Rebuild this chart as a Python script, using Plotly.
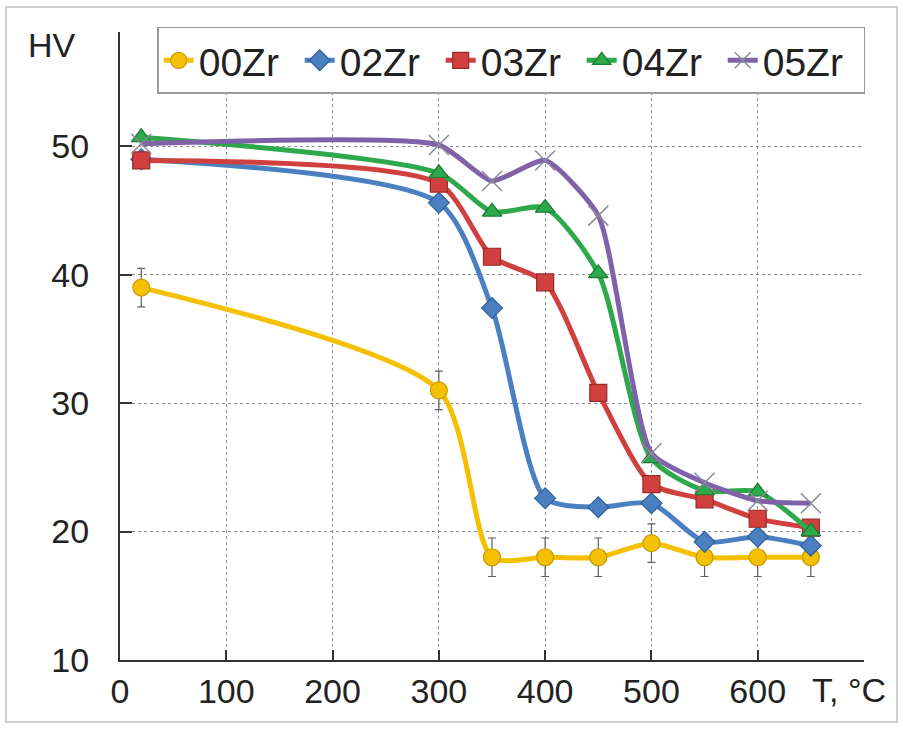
import plotly.graph_objects as go

T = [20, 300, 350, 400, 450, 500, 550, 600, 650]
hv_00 = [39.0, 31.0, 18.0, 18.0, 18.0, 19.1, 18.0, 18.0, 18.0]
err_00 = [1.5, 1.5, 1.5, 1.5, 1.5, 1.5, 1.5, 1.5, 1.5]
hv_02 = [49.0, 45.6, 37.4, 22.6, 21.9, 22.2, 19.2, 19.6, 18.9]
hv_03 = [48.9, 47.1, 41.4, 39.4, 30.8, 23.7, 22.5, 21.0, 20.3]
hv_04 = [50.7, 47.9, 44.9, 45.2, 40.1, 25.7, 23.2, 23.1, 20.0]
hv_05 = [50.2, 50.1, 47.3, 48.9, 44.6, 26.1, 23.8, 22.4, 22.2]

names = ["00Zr", "02Zr", "03Zr", "04Zr", "05Zr"]
x_ticks = [0, 100, 200, 300, 400, 500, 600]
y_ticks = [10, 20, 30, 40, 50]

FONT = "Liberation Sans, Arial, sans-serif"

fig = go.Figure()

styles = [
    (hv_00, "#F5C000", "#C89A00", "circle", 17, 0.7),
    (hv_02, "#4A80C2", "#2F5F9A", "diamond", 16, 0.7),
    (hv_03, "#D0403F", "#9A2A2A", "square", 17, 0.7),
    (hv_04, "#2DA84A", "#1C7A33", "triangle-up", 17, 0.7),
    (hv_05, "#8062A8", "#8A8A9A", "x-thin", 20, 0.55),
]

for i, (vals, col, edge, sym, sz, sm) in enumerate(styles):
    kw = {}
    if i == 0:
        kw["error_y"] = dict(type="data", array=err_00, visible=True,
                             color="#606060", thickness=1.2, width=4)
    fig.add_trace(go.Scatter(
        x=T, y=vals, name=names[i], mode="lines+markers",
        line=dict(color=col, width=5, shape="spline", smoothing=sm),
        marker=dict(symbol=sym, size=sz, color=col,
                    line=dict(color=edge, width=1.2 if sym != "x-thin" else 1.5)),
        **kw))

fig.update_layout(
    width=903, height=729,
    margin=dict(l=120, r=39, t=32, b=69),
    paper_bgcolor="white", plot_bgcolor="white",
    font=dict(family=FONT, color="#222222", size=32),
    showlegend=True,
    legend=dict(orientation="h", x=0.05, y=1.008, xanchor="left", yanchor="top",
                bordercolor="#9a9a9a", borderwidth=1.5, bgcolor="white",
                font=dict(size=39, family=FONT, color="#222222"),
                entrywidth=96, itemwidth=30, tracegroupgap=0),
    xaxis=dict(range=[0, 700], tickvals=x_ticks, ticktext=[str(v) for v in x_ticks],
               showgrid=True, gridcolor="#8c8c8c", griddash="dot", gridwidth=1.3,
               showline=True, linecolor="#333333", linewidth=2,
               ticks="inside", ticklen=10, tickcolor="#333333", tickwidth=1.5,
               zeroline=False, tickfont=dict(size=34), ticklabelstandoff=0),
    yaxis=dict(range=[10, 58.9], tickvals=y_ticks, ticktext=[str(v) for v in y_ticks],
               showgrid=True, gridcolor="#8c8c8c", griddash="dot", gridwidth=1.3,
               showline=True, linecolor="#333333", linewidth=2,
               ticks="inside", ticklen=12, tickcolor="#333333", tickwidth=1.5,
               zeroline=False, tickfont=dict(size=34), ticklabelstandoff=22),
)

fig.add_annotation(text="HV", xref="paper", yref="paper", x=-0.126, y=0.979,
                   xanchor="left", yanchor="middle", showarrow=False,
                   font=dict(size=34, family=FONT, color="#222222"))
fig.add_annotation(text="T, °C", xref="paper", yref="paper", x=1.032, y=-0.048,
                   xanchor="right", yanchor="middle", showarrow=False,
                   font=dict(size=34, family=FONT, color="#222222"))

fig.add_shape(type="rect", xref="paper", yref="paper",
              x0=-0.1532, x1=1.0444, y0=-0.0987, y1=1.0398,
              line=dict(color="#cfcfcf", width=2), fillcolor="rgba(0,0,0,0)",
              layer="below")

fig.write_html("out.html")
